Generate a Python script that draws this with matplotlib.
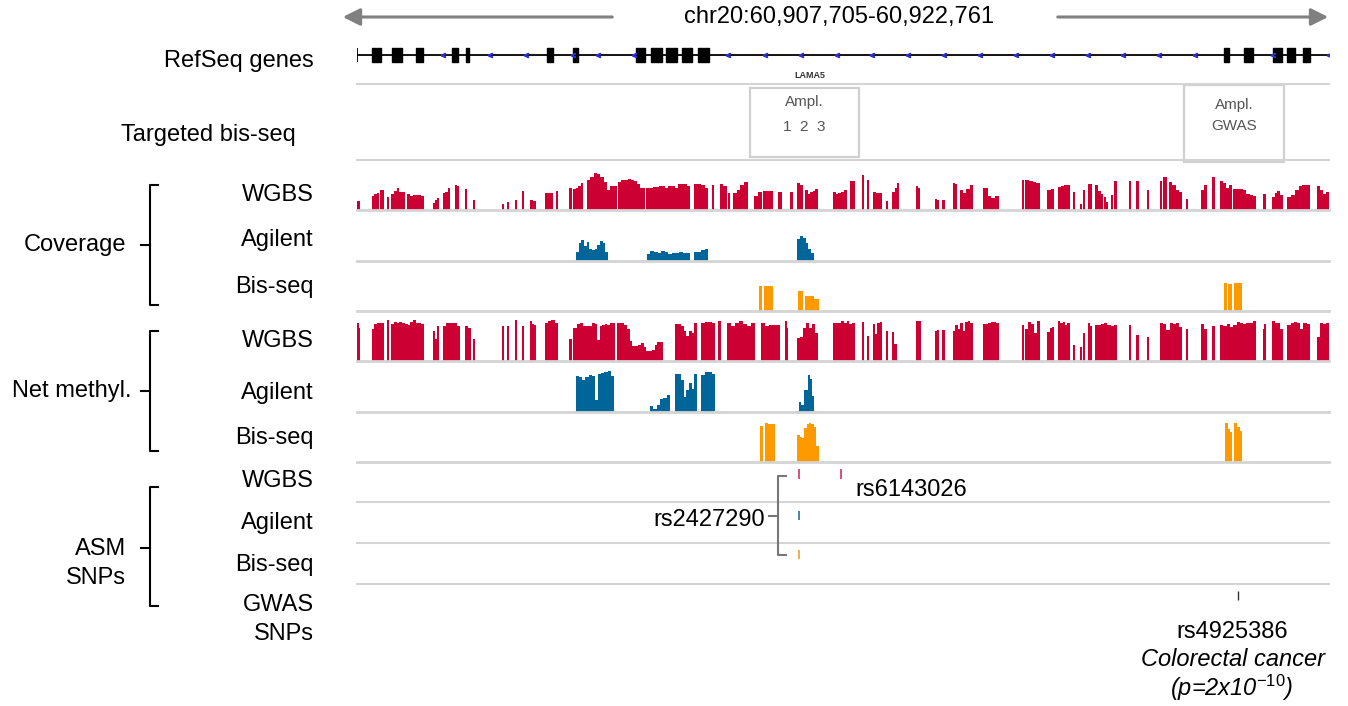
import numpy as np
import matplotlib
matplotlib.use("Agg")
import matplotlib.pyplot as plt
from matplotlib.patches import Rectangle

plt.rcParams['font.family'] = ['Liberation Sans', 'DejaVu Sans']
plt.rcParams['mathtext.fontset'] = 'custom'
plt.rcParams['mathtext.rm'] = 'Liberation Sans'
plt.rcParams['mathtext.it'] = 'Liberation Sans:italic'

# region shown (chr20), positions below are kb from START
START = 60907705
END = 60922761
REGION_KB = (END - START) / 1000.0

# RefSeq LAMA5 exons (start_kb, end_kb)
exons = [(0.23, 0.37), (0.54, 0.70), (0.91, 1.02), (1.47, 1.56), (1.69, 1.73),
         (2.94, 3.04), (3.35, 3.42), (4.32, 4.46), (4.55, 4.72), (4.79, 4.96),
         (5.03, 5.19), (5.28, 5.45), (13.43, 13.51), (13.74, 13.88),
         (14.19, 14.33), (14.41, 14.53), (14.65, 14.76)]
strand_marks = [1.33, 2.06, 2.62, 3.35, 3.73, 4.29, 5.75, 6.32, 6.88, 7.44, 7.98,
                8.54, 9.09, 9.65, 10.21, 10.76, 11.32, 11.87, 12.42, 12.98,
                14.19, 15.05]

# targeted bisulfite amplicons (start_kb, end_kb, label lines)
amplicons = [(6.09, 7.78, "Ampl.", "1  2  3"), (12.81, 14.36, "Ampl.", "GWAS")]

# coverage runs: (start_kb, end_kb, values)
wgbs_cov = [
    (0.00, 0.05, [9]), (0.23, 0.34, [14, 16, 17]), (0.36, 0.42, [20]),
    (0.46, 0.50, [13]), (0.53, 0.74, [16, 19, 22, 18, 18]),
    (0.77, 1.04, [16, 14, 15, 15, 15, 14]), (1.18, 1.27, [7, 10, 12]),
    (1.33, 1.44, [17, 18, 22]), (1.52, 1.58, [25, 24]), (1.67, 1.70, [21]),
    (1.80, 1.83, [10]), (2.25, 2.28, [6]), (2.32, 2.35, [8]), (2.45, 2.48, [10]),
    (2.56, 2.59, [19]), (2.68, 2.77, [10, 9]), (2.91, 3.04, [17, 17, 17]),
    (3.08, 3.11, [19]), (3.28, 3.33, [22]), (3.35, 3.50, [21, 22, 24, 27]),
    (3.56, 4.03, [30, 33, 37, 36, 33, 28, 20, 24, 24]),
    (4.04, 4.34, [28, 30, 30, 31, 30, 29]), (4.34, 4.46, [26, 22, 22]),
    (4.48, 4.97, [22, 22, 23, 23, 24, 24, 22, 24, 24, 22]),
    (4.97, 5.16, [26, 26, 26, 24]), (5.22, 5.44, [26, 26, 25, 22]),
    (5.50, 5.53, [25]), (5.62, 5.73, [26, 24]), (5.75, 5.78, [17]),
    (5.82, 6.06, [17, 20, 25, 28]), (6.15, 6.27, [14, 18]),
    (6.29, 6.44, [19, 19, 19]), (6.52, 6.58, [18]), (6.71, 6.75, [18]),
    (6.82, 6.91, [27, 25]), (6.94, 7.14, [20, 16, 18, 19, 21]),
    (7.37, 7.59, [18, 16, 17, 18, 20]), (7.64, 7.71, [29]), (7.82, 7.85, [35]),
    (7.90, 7.93, [30]), (7.99, 8.13, [18, 17, 17]), (8.19, 8.23, [9]),
    (8.29, 8.40, [18, 22, 27]), (8.66, 8.72, [24, 22]), (8.95, 9.02, [11, 10]),
    (9.06, 9.11, [10]), (9.23, 9.29, [27, 26]), (9.34, 9.54, [20, 17, 21, 25]),
    (9.70, 9.77, [22]), (9.77, 9.94, [14, 12, 14]), (10.30, 10.33, [30]),
    (10.35, 10.58, [30, 29, 28, 27]), (10.69, 10.80, [20, 21]),
    (10.86, 11.04, [23, 24, 25, 25]), (11.09, 11.12, [18]), (11.20, 11.23, [6]),
    (11.25, 11.28, [20]), (11.32, 11.39, [26]), (11.43, 11.56, [25, 19, 16]),
    (11.57, 11.63, [13, 8]), (11.68, 11.71, [15]), (11.73, 11.77, [29]),
    (11.96, 11.99, [29]), (12.07, 12.11, [29]), (12.24, 12.27, [20]),
    (12.44, 12.47, [29]), (12.49, 12.55, [33]), (12.58, 12.78, [28, 25, 20, 18]),
    (12.84, 12.87, [11]), (13.07, 13.17, [20, 25]), (13.24, 13.29, [33]),
    (13.37, 13.55, [29, 27, 22, 25]), (13.57, 13.93, [21, 21, 21, 20, 16, 15, 14]),
    (14.03, 14.08, [16]), (14.17, 14.34, [13, 17, 19, 15]),
    (14.41, 14.76, [13, 15, 20, 24, 25, 25]), (14.87, 15.06, [24, 20, 16, 18]),
]
agilent_cov = [
    (3.39, 3.89, [9, 18, 21, 15, 19, 12, 11, 12, 16, 20, 18, 9]),
    (4.49, 5.16, [7, 10, 9, 8, 10, 9, 7, 8, 8, 9, 8, 8]),
    (5.22, 5.44, [9, 9, 11, 12]),
    (6.82, 7.08, [22, 25, 23, 18, 12, 8]),
]
bis_cov = [
    (6.23, 6.28, [25]), (6.31, 6.45, [25, 25, 25]),
    (6.83, 6.91, [20]), (6.94, 7.08, [15, 15, 15]), (7.08, 7.16, [12]),
    (13.43, 13.48, [28]), (13.49, 13.56, [27]), (13.59, 13.71, [28, 28]),
]

# net methylation runs
wgbs_meth = [
    (0.00, 0.05, [38, 33]), (0.23, 0.42, [32, 37, 38, 38, 38]), (0.46, 0.50, [41]),
    (0.53, 1.04, [37, 39, 38, 39, 38, 37, 36, 39, 41, 38, 38, 37]),
    (1.18, 1.27, [30, 22, 35]), (1.33, 1.60, [35, 38, 38, 38, 38, 35]),
    (1.67, 1.77, [35, 33]), (1.80, 1.83, [22]), (2.25, 2.28, [35]),
    (2.32, 2.35, [35]), (2.45, 2.48, [41]), (2.56, 2.59, [35]),
    (2.68, 2.77, [40, 37, 36]), (2.91, 3.11, [38, 40, 41, 38]), (3.28, 3.33, [22]),
    (3.35, 3.56, [33, 37, 38, 35]),
    (3.56, 4.00, [35, 35, 38, 37, 21, 35, 36, 37, 36, 38, 38]),
    (4.03, 4.18, [38, 38, 36]),
    (4.18, 4.74, [32, 20, 15, 15, 16, 18, 14, 10, 10, 11, 16, 19, 19]),
    (4.93, 5.27, [37, 37, 35, 30, 25, 30, 28, 38]), (5.33, 5.55, [38, 39, 39, 38]),
    (5.59, 5.64, [40]), (5.73, 6.17, [38, 35, 38, 40, 37, 35, 38]),
    (6.26, 6.55, [38, 35, 36, 36, 36]), (6.63, 6.68, [40, 33]),
    (6.82, 7.14, [23, 24, 33, 38, 33, 37, 28]),
    (7.37, 7.71, [38, 38, 38, 40, 38, 40, 37, 38]), (7.82, 7.85, [39]),
    (7.90, 7.93, [25]), (7.99, 8.13, [37, 27, 38, 39]), (8.19, 8.23, [30]),
    (8.29, 8.36, [29, 17]), (8.66, 8.74, [40]), (8.95, 9.02, [30, 31]),
    (9.06, 9.11, [31]), (9.23, 9.54, [30, 36, 32, 38, 30, 39, 40, 38]),
    (9.70, 9.94, [37, 37, 38, 39, 39, 38]), (10.30, 10.33, [36]),
    (10.35, 10.58, [32, 39, 37, 28, 40]), (10.69, 10.80, [29, 33, 34]),
    (10.86, 11.04, [40, 38, 39, 36, 38]), (11.09, 11.12, [16]), (11.20, 11.23, [14]),
    (11.25, 11.28, [28]), (11.32, 11.39, [38, 35]),
    (11.43, 11.77, [36, 36, 37, 38, 36, 35, 36]), (11.96, 11.99, [36]),
    (12.07, 12.11, [26]), (12.24, 12.27, [24]),
    (12.44, 12.78, [38, 37, 31, 38, 37, 38, 34]), (12.84, 12.87, [32]),
    (13.07, 13.17, [37, 32]), (13.24, 13.29, [35]),
    (13.37, 13.93, [36, 35, 37, 34, 36, 39, 38, 37, 38, 38, 40]),
    (14.03, 14.08, [32, 37]), (14.17, 14.34, [40, 38, 38, 32]),
    (14.41, 14.76, [36, 38, 39, 38, 32, 38, 37]), (14.87, 15.06, [24, 38, 37, 38]),
]
agilent_meth = [
    (3.39, 3.98, [36, 35, 32, 35, 37, 36, 12, 38, 39, 40, 41, 36]),
    (4.54, 4.85, [6, 3, 7, 13, 14, 17]),
    (4.93, 5.27, [38, 38, 32, 15, 22, 29, 23, 38]),
    (5.33, 5.55, [37, 40, 40, 38]),
    (6.82, 7.08, [1, 10, 7, 22, 22, 37, 33, 16]),
]
bis_meth = [
    (6.24, 6.29, [36]), (6.32, 6.48, [39, 38, 38]),
    (6.82, 7.15, [27, 25, 24, 34, 38, 39, 38, 35, 16]),
    (13.45, 13.56, [39, 33, 30]), (13.59, 13.71, [39, 35, 31]),
]

# ASM SNPs and GWAS SNP (kb)
asm_wgbs = [6.85, 7.50]
asm_agilent = [6.85]
asm_bis = [6.85]
gwas_snp = [13.65]

RED = '#cc0033'
BLUE = '#006699'
ORANGE = '#ff9900'
GREY_LINE = '#d4d4d4'

W, H = 1348, 706
X0, X1 = 357, 1329
fig = plt.figure(figsize=(W / 100, H / 100), dpi=100)


def px_axes(top, bottom, left=X0, right=X1):
    ax = fig.add_axes([left / W, 1 - bottom / H, (right - left) / W, (bottom - top) / H])
    ax.set_xlim(0, REGION_KB)
    ax.axis('off')
    return ax


def draw_runs(ax, runs, color):
    for start, end, vals in runs:
        w = (end - start) / len(vals)
        xs = [start + i * w for i in range(len(vals))]
        ax.bar(xs, vals, width=w, align='edge', color=color, linewidth=0)


# genes
ax_g = px_axes(40, 70)
ax_g.set_ylim(-1, 1)
ax_g.plot([0, REGION_KB], [0, 0], color='black', lw=1.3)
ax_g.vlines(0, -0.45, 0.45, color='black', lw=1.3)
ax_g.broken_barh([(s, e - s) for s, e in exons], (-0.47, 0.94), color='black')
ax_g.plot(strand_marks, np.zeros(len(strand_marks)), ls='none', marker=r'$<$',
          ms=3, color='#3030d0')

# targeted bis-seq amplicons
ax_t = px_axes(80, 166)
ax_t.set_ylim(166, 80)
box_rows = [(88, 157, 102, 127), (85, 162, 105, 126)]
for (s, e, l1, l2), (yt, yb, y1, y2) in zip(amplicons, box_rows):
    ax_t.add_patch(Rectangle((s, yt), e - s, yb - yt, fill=False, ec='#d0d0d0', lw=1.6,
                             clip_on=False))
    ax_t.text((s + e) / 2, y1, l1, ha='center', va='center', fontsize=11, color='#555555')
    ax_t.text((s + e) / 2, y2, l2, ha='center', va='center', fontsize=11, color='#555555')

# coverage and methylation tracks
tracks = [
    (170, 210, wgbs_cov, RED, 40),
    (221, 261, agilent_cov, BLUE, 40),
    (271, 311, bis_cov, ORANGE, 40),
    (320, 361, wgbs_meth, RED, 41),
    (371, 412, agilent_meth, BLUE, 41),
    (421, 462, bis_meth, ORANGE, 41),
]
for top, bottom, runs, c, ymax in tracks:
    ax = px_axes(top, bottom)
    ax.set_ylim(0, ymax)
    ax.axhline(0, color=GREY_LINE, lw=2, clip_on=False)
    draw_runs(ax, runs, c)

# SNP rows
ax_s = px_axes(462, 620)
ax_s.set_ylim(620, 462)
ax_s.vlines(asm_wgbs, 469, 479, color='#cc3366', lw=1.2)
ax_s.vlines(asm_agilent, 511, 520, color='#2a6f9a', lw=1.2)
ax_s.vlines(asm_bis, 550, 559, color='#f0a030', lw=1.2)
ax_s.vlines(gwas_snp, 591, 600, color='#333333', lw=1.0)

# overlay for labels, brackets and separators
ov = fig.add_axes([0, 0, 1, 1])
ov.set_xlim(0, W)
ov.set_ylim(H, 0)
ov.axis('off')

for y in [84, 160, 502, 543, 584]:
    ov.plot([X0, X1], [y, y], color=GREY_LINE, lw=1.5)

arrow_kw = dict(arrowstyle='-|>', color='#808080', lw=2.2, mutation_scale=26)
ov.annotate('', xy=(340, 17), xytext=(615, 17), arrowprops=arrow_kw)
ov.annotate('', xy=(1331, 17), xytext=(1055, 17), arrowprops=arrow_kw)
ov.text(839, 17, f"chr20:{START:,}-{END:,}", ha='center', va='center', fontsize=17)

ov.text(810, 75, "LAMA5", ha='center', va='center', fontsize=6.5, color='#333333',
        fontweight='bold')

FS = 17
ov.text(314, 61, "RefSeq genes", ha='right', va='center', fontsize=FS)
ov.text(296, 135, "Targeted bis-seq", ha='right', va='center', fontsize=FS)

sub_labels = [("WGBS", 195), ("Agilent", 240), ("Bis-seq", 287),
              ("WGBS", 341), ("Agilent", 393), ("Bis-seq", 438),
              ("WGBS", 481), ("Agilent", 523), ("Bis-seq", 565),
              ("GWAS", 605), ("SNPs", 634)]
for txt, y in sub_labels:
    ov.text(314, y, txt, ha='right', va='center', fontsize=FS)


def bracket(top, bottom, mid):
    ov.plot([158, 150, 150, 158], [top, top, bottom, bottom], color='black', lw=1.5)
    ov.plot([141, 150], [mid, mid], color='black', lw=1.5)


bracket(185, 305, 245)
ov.text(126, 245, "Coverage", ha='right', va='center', fontsize=FS)
bracket(331, 451, 391)
ov.text(131, 391, "Net methyl.", ha='right', va='center', fontsize=FS)
bracket(487, 606, 548)
ov.text(126, 549, "ASM", ha='right', va='center', fontsize=FS)
ov.text(126, 578, "SNPs", ha='right', va='center', fontsize=FS)

# rs2427290 bracket
ov.plot([786, 778, 778, 786], [476, 476, 555, 555], color='#777777', lw=1.5)
ov.plot([769, 778], [516, 516], color='#777777', lw=1.5)
ov.text(765, 520, "rs2427290", ha='right', va='center', fontsize=FS)
ov.text(855, 490, "rs6143026", ha='left', va='center', fontsize=FS)

ov.text(1232, 632, "rs4925386", ha='center', va='center', fontsize=FS)
ov.text(1233, 660, "Colorectal cancer", ha='center', va='center', fontsize=FS,
        style='italic')
ov.text(1232, 688, r"($\mathit{p}$=2x10$^{\mathit{-10}}$)", ha='center', va='center',
        fontsize=FS, style='italic')

fig.savefig('out.png', dpi=100)
